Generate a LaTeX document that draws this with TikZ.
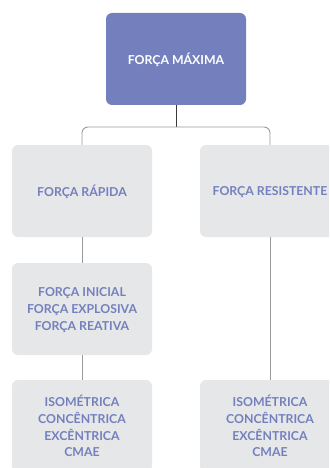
\documentclass[tikz,border=0pt]{standalone}
\usepackage{fontspec}
\setmainfont{Lato}
\definecolor{topblue}{HTML}{7480BE}
\definecolor{boxgray}{HTML}{E6E7E8}
\definecolor{linegray}{HTML}{9A9A9A}
\definecolor{linedark}{HTML}{3A3A3A}
\tikzset{
  box/.style={rounded corners=6pt, minimum width=140pt, minimum height=92pt, inner sep=0pt, align=center, text depth=0pt, font=\fontsize{12.3}{16.7}\selectfont\bfseries},
  topbox/.style={box, fill=topblue, text=white},
  graybox/.style={box, fill=boxgray, text=topblue},
  conn/.style={draw=linegray, line width=0.9pt},
}
\begin{document}
\begin{tikzpicture}[x=1pt,y=-1pt]
\useasboundingbox (0,0) rectangle (329,468);
\clip (0,0) rectangle (329,468);
\node[topbox] (max) at (176,59) {FORÇA MÁXIMA};
\node[graybox] (rap) at (82,191) {FORÇA RÁPIDA};
\node[graybox] (res) at (270,191) {FORÇA RESISTENTE};
\node[graybox] (tipos) at (82,309) {FORÇA INICIAL\\FORÇA EXPLOSIVA\\FORÇA REATIVA};
\node[graybox] (isoL) at (82,426) {ISOMÉTRICA\\CONCÊNTRICA\\EXCÊNTRICA\\CMAE};
\node[graybox] (isoR) at (270,426) {ISOMÉTRICA\\CONCÊNTRICA\\EXCÊNTRICA\\CMAE};
\coordinate (j) at (176,127);
\draw[draw=linedark, line width=0.9pt] (max.south) -- (j);
\draw[conn, rounded corners=6pt] (rap.north) |- (j) -| (res.north);
\draw[conn] (rap.south) -- (tipos.north);
\draw[conn] (tipos.south) -- (isoL.north);
\draw[conn] (res.south) -- (isoR.north);
\end{tikzpicture}
\end{document}
